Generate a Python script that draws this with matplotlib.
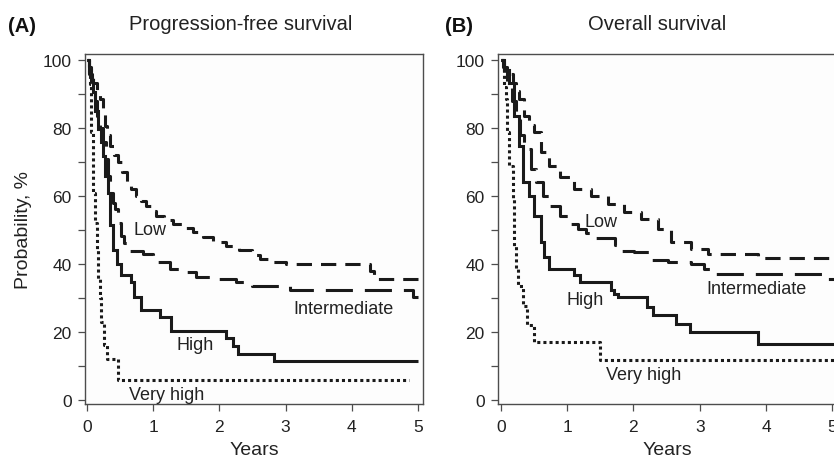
'''
Kaplan-Meier-Kurven nach Risikogruppe:
(A) progressionsfreies Ueberleben, (B) Gesamtueberleben.
'''

import matplotlib
matplotlib.use("Agg")
import matplotlib.pyplot as plt
from matplotlib.ticker import MultipleLocator

#Risikogruppen
groups = ["Low", "Intermediate", "High", "Very high"]

#(A) Progression-free survival: Zeit in Jahren, Wahrscheinlichkeit in %
pfs_low_t = [0, 0.03, 0.06, 0.10, 0.15, 0.20, 0.24, 0.27, 0.31, 0.35, 0.41, 0.47,
             0.53, 0.60, 0.67, 0.75, 0.82, 0.90, 0.97, 1.05, 1.17, 1.30, 1.45,
             1.60, 1.75, 1.90, 2.10, 2.30, 2.50, 2.62, 2.80, 3.00, 4.28, 4.33, 5.0]
pfs_low_s = [100, 98, 96, 93.4, 91, 88.5, 84, 80.7, 78, 74.8, 72, 69.9,
             67, 64, 62, 60.1, 58.5, 57.1, 55.5, 54.2, 53, 51.8, 50.5,
             49.3, 47.8, 46.5, 45.4, 44, 42.5, 41.5, 40.5, 40, 37.8, 35.6, 35.6]

pfs_int_t = [0, 0.04, 0.08, 0.12, 0.15, 0.20, 0.25, 0.29, 0.32, 0.35, 0.39, 0.42,
             0.47, 0.52, 0.56, 0.60, 0.85, 1.00, 1.25, 1.40, 1.65, 1.98, 2.25,
             2.50, 3.06, 4.92, 5.0]
pfs_int_s = [100, 96, 92, 88, 83.6, 80, 75.8, 71, 66, 61, 58, 56.2,
             52, 48.3, 46, 43.9, 42.9, 40.5, 38.5, 37.5, 36.1, 35.6, 34.6,
             33.6, 32.2, 30.2, 30.2]

pfs_high_t = [0, 0.03, 0.06, 0.10, 0.13, 0.17, 0.21, 0.25, 0.28, 0.32, 0.35, 0.39,
              0.45, 0.52, 0.67, 0.72, 0.82, 1.10, 1.27, 2.10, 2.20, 2.28, 2.83, 5.0]
pfs_high_s = [100, 97, 94, 90.5, 85, 79.7, 76, 71.9, 66, 61, 51.3, 44,
              40, 36.6, 34.6, 30.3, 26.3, 24.3, 20.2, 18.2, 15.8, 13.5, 11.3, 11.3]

pfs_vhigh_t = [0, 0.03, 0.05, 0.07, 0.10, 0.13, 0.15, 0.17, 0.20, 0.22, 0.26,
               0.30, 0.47, 4.86]
pfs_vhigh_s = [100, 96, 93, 78.7, 61, 52, 44.4, 35.6, 30, 22.8, 16,
               12, 5.7, 5.7]

#(B) Overall survival
os_low_t = [0, 0.03, 0.10, 0.18, 0.23, 0.28, 0.35, 0.42, 0.50, 0.60, 0.73, 0.90,
            1.10, 1.36, 1.61, 1.86, 2.11, 2.37, 2.57, 2.87, 3.12, 3.88, 5.05]
os_low_s = [100, 98, 96, 93.4, 91, 88.5, 83.6, 81, 78.7, 72.8, 68.9, 65.5,
            62, 60.1, 57.6, 55.2, 53.2, 50.3, 46.4, 44.4, 42.9, 41.7, 41.7]

os_int_t = [0, 0.05, 0.10, 0.17, 0.23, 0.29, 0.35, 0.45, 0.53, 0.63, 0.73, 0.90,
            1.05, 1.17, 1.28, 1.38, 1.72, 1.78, 2.01, 2.27, 2.52, 2.87, 3.07,
            3.17, 4.85, 5.05]
os_int_s = [100, 97, 93.4, 88, 83.6, 78, 73.8, 67.9, 64, 60, 57.1, 54.2,
            51.8, 50.3, 49, 47.5, 45.5, 43.9, 43.4, 41, 40.5, 40, 38.5,
            37.1, 35.6, 35.6]

os_high_t = [0, 0.05, 0.13, 0.20, 0.28, 0.33, 0.43, 0.50, 0.60, 0.65, 0.73, 1.10,
             1.20, 1.66, 1.70, 1.76, 2.21, 2.29, 2.64, 2.85, 3.88, 5.05]
os_high_s = [100, 97, 93.4, 83.6, 74.8, 64, 60.1, 54.2, 46.4, 42, 38.5, 36.6,
             34.6, 32.2, 31.2, 30.2, 27.3, 25, 22.3, 19.9, 16.5, 16.5]

os_vhigh_t = [0, 0.05, 0.08, 0.10, 0.13, 0.18, 0.20, 0.23, 0.26, 0.33, 0.40,
              0.50, 1.49, 5.05]
os_vhigh_s = [100, 92, 88.5, 78.7, 68.9, 59.1, 45.4, 38.5, 33.6, 27.7, 21.9,
              17, 11.6, 11.6]

#Achsenbeschriftungen
x_ticks = [0, 1, 2, 3, 4, 5]
y_ticks = [0, 20, 40, 60, 80, 100]
panel_titles = ["Progression-free survival", "Overall survival"]
panel_letters = ["(A)", "(B)"]

#Linienstile je Gruppe (Strichmuster in pt)
line_styles = {
    "Low": dict(dashes=(11, 6.5)),
    "Intermediate": dict(dashes=(19.5, 8.6)),
    "High": dict(linestyle="-"),
    "Very high": dict(dashes=(2.2, 2.2)),
}

#Position der Gruppenbeschriftung (Jahre, %)
label_pos_pfs = {"Low": (0.96, 50.0), "Intermediate": (3.88, 27.0),
                 "High": (1.64, 16.3), "Very high": (1.21, 1.5)}
label_pos_os = {"Low": (1.51, 52.6), "Intermediate": (3.85, 32.6),
                "High": (1.27, 29.4), "Very high": (2.16, 7.3)}

plt.rcParams["font.family"] = ["Liberation Sans", "DejaVu Sans"]
plt.rcParams["lines.scale_dashes"] = False

INK = "#1a1a1a"
FRAME = "#4d4d4d"


def draw_panel(ax, curves, label_pos, xlim):
    '''
    Zeichnet ein Kaplan-Meier-Panel mit Treppenkurven und Beschriftungen.
    '''
    for name, (t, s) in zip(groups, curves):
        ax.plot(t, s, drawstyle="steps-post", color=INK, linewidth=2.2,
                solid_capstyle="butt", dash_capstyle="butt",
                solid_joinstyle="miter", **line_styles[name])
        x, y = label_pos[name]
        ax.text(x, y, name, ha="center", va="center", fontsize=13, color="#222222")

    ax.set_xlim(*xlim)
    ax.set_ylim(-1.27, 101.8)
    ax.set_xticks(x_ticks)
    ax.set_yticks(y_ticks)
    ax.yaxis.set_minor_locator(MultipleLocator(10))
    ax.tick_params(axis="both", which="both", direction="out", length=5,
                   width=0.9, color=FRAME, labelsize=12.5, labelcolor="#222222")
    ax.tick_params(axis="x", pad=6)
    ax.tick_params(axis="y", pad=4.5)
    for spine in ax.spines.values():
        spine.set_color(FRAME)
        spine.set_linewidth(1.0)
    ax.set_facecolor("#fdfdfd")
    ax.set_xlabel("Years", fontsize=14, color="#222222", labelpad=5)


def main() -> None:
    fig = plt.figure(figsize=(8.34, 4.64), dpi=100)

    #Positionen der beiden Panels in Figur-Koordinaten
    ax_a = fig.add_axes([85 / 834, 59 / 464, 338 / 834, 350 / 464])
    ax_b = fig.add_axes([497.7 / 834, 59 / 464, 339.4 / 834, 350 / 464])

    draw_panel(ax_a, [(pfs_low_t, pfs_low_s), (pfs_int_t, pfs_int_s),
                      (pfs_high_t, pfs_high_s), (pfs_vhigh_t, pfs_vhigh_s)],
               label_pos_pfs, (-0.026, 5.072))
    draw_panel(ax_b, [(os_low_t, os_low_s), (os_int_t, os_int_s),
                      (os_high_t, os_high_s), (os_vhigh_t, os_vhigh_s)],
               label_pos_os, (-0.047, 5.072))

    ax_a.set_ylabel("Probability, %", fontsize=14, color="#222222", labelpad=8)

    #Titel und Panelbuchstaben
    fig.text(241 / 834, 1 - 29.5 / 464, panel_titles[0], ha="center",
             va="baseline", fontsize=14.5, color="#222222")
    fig.text(657.5 / 834, 1 - 29.5 / 464, panel_titles[1], ha="center",
             va="baseline", fontsize=14.5, color="#222222")
    fig.text(8 / 834, 1 - 32.5 / 464, panel_letters[0], ha="left",
             va="baseline", fontsize=14.5, fontweight="bold", color="#111111")
    fig.text(445 / 834, 1 - 32.5 / 464, panel_letters[1], ha="left",
             va="baseline", fontsize=14.5, fontweight="bold", color="#111111")

    fig.savefig("out.png", dpi=100, facecolor="white")


if __name__ == "__main__":
    main()
